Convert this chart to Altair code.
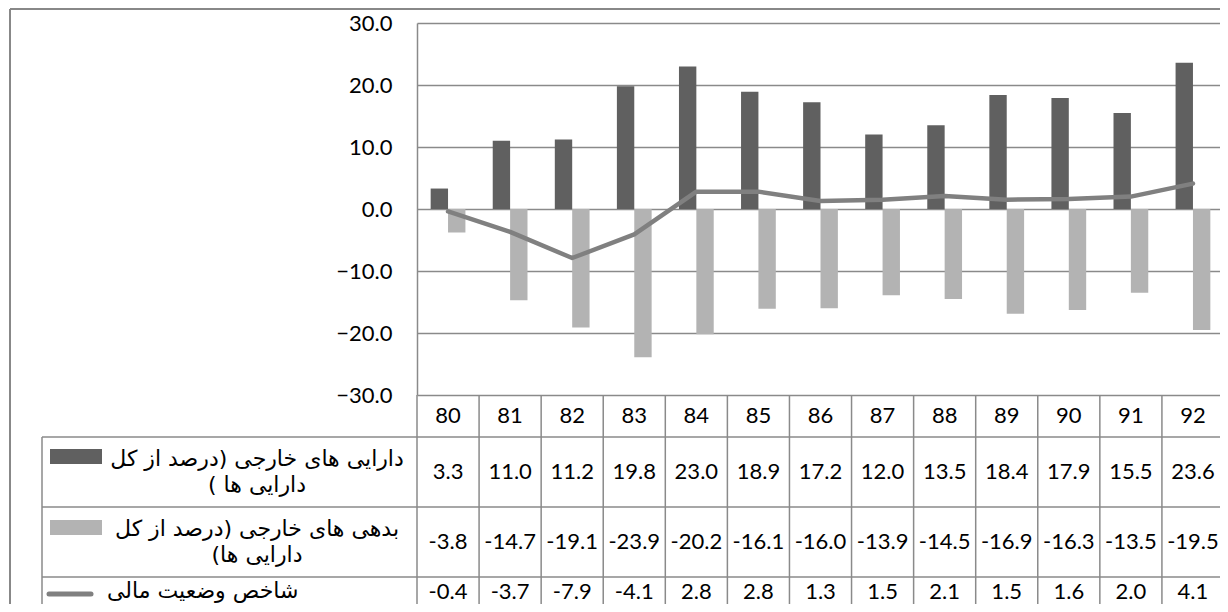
import altair as alt
import pandas as pd

# ---------------- data ----------------
years = ["80", "81", "82", "83", "84", "85", "86", "87", "88", "89", "90", "91", "92"]
assets = [3.3, 11.0, 11.2, 19.8, 23.0, 18.9, 17.2, 12.0, 13.5, 18.4, 17.9, 15.5, 23.6]
liabilities = [-3.8, -14.7, -19.1, -23.9, -20.2, -16.1, -16.0, -13.9, -14.5, -16.9, -16.3, -13.5, -19.5]
fin_index = [-0.4, -3.7, -7.9, -4.1, 2.8, 2.8, 1.3, 1.5, 2.1, 1.5, 1.6, 2.0, 4.1]

RLM = "\u200f"
series = ["assets", "liabilities", "index"]
label_lines = [
    ["دارایی های خارجی (درصد از کل" + RLM, "دارایی ها )" + RLM],
    ["بدهی های خارجی (درصد از کل" + RLM, "دارایی ها)" + RLM],
    ["شاخص وضعیت مالی" + RLM],
]
colors = ["#606060", "#b3b3b3", "#808080"]
y_ticks = [-30, -20, -10, 0, 10, 20, 30]

# ---------------- layout constants ----------------
X_RANGE = 807          # full width of the 13 columns (the last few px fall off the page)
VIEW_W = 803
H_TOP = 372
ROW_H = [42, 70, 70, 40]
VIEW_H = 581
GRID = "#8a8a8a"
NUM_FONT = "Lato"
FA_FONT = "DejaVu Sans"
FS = 22
FA_FS = 22
STEP = X_RANGE / len(years)
BAR_W = STEP * 0.28

row_top = [sum(ROW_H[:i]) for i in range(len(ROW_H))]
H_TAB = sum(ROW_H)
H = H_TOP + H_TAB
row_center = [row_top[i] + ROW_H[i] / 2 for i in range(len(ROW_H))]
row_center[3] = row_top[3] + 15

color_scale = alt.Scale(domain=series, range=colors)
xs = alt.Scale(domain=years, paddingInner=0, paddingOuter=0, range=[0, X_RANGE])

# ---------------- top plot ----------------
ys_top = alt.Scale(domain=[-30, 30], nice=False, zero=False, range=[H_TOP, 0])

assets_df = pd.DataFrame({"year": years, "value": assets, "series": series[0]})
liab_df = pd.DataFrame({"year": years, "value": liabilities, "series": series[1]})
line_df = pd.DataFrame({"year": years, "value": fin_index, "series": series[2]})

y_axis = alt.Axis(
    values=y_ticks, format=".1f", title=None, grid=True, gridColor=GRID, gridWidth=1.3,
    domainColor=GRID, domainWidth=1.5, ticks=False, labelPadding=25,
    labelFont=NUM_FONT, labelFontSize=FS, labelColor="#000000")

bars_a = alt.Chart(assets_df).mark_bar(width=BAR_W, xOffset=-BAR_W / 2).encode(
    x=alt.X("year:N", scale=xs, axis=None),
    y=alt.Y("value:Q", scale=ys_top, axis=y_axis),
    color=alt.Color("series:N", scale=color_scale, legend=None),
)
bars_l = alt.Chart(liab_df).mark_bar(width=BAR_W, xOffset=BAR_W / 2).encode(
    x=alt.X("year:N", scale=xs, axis=None),
    y=alt.Y("value:Q", scale=ys_top),
    color=alt.Color("series:N", scale=color_scale, legend=None),
)
line = alt.Chart(line_df).mark_line(strokeWidth=4.5, strokeCap="round", strokeJoin="round").encode(
    x=alt.X("year:N", scale=xs, axis=None),
    y=alt.Y("value:Q", scale=ys_top),
    color=alt.Color("series:N", scale=color_scale, legend=None),
)
top = alt.layer(bars_a, bars_l, line)

# ---------------- data table ----------------
# table y units are pixels measured from the top of the table
ys_tab = alt.Scale(domain=[0, H_TAB], range=[H_TOP, H], nice=False, zero=False)

cells = []
for y in years:
    cells.append({"year": y, "txt": y, "yc": row_center[0]})
for vals, r in ((assets, 1), (liabilities, 2), (fin_index, 3)):
    for y, v in zip(years, vals):
        cells.append({"year": y, "txt": f"{v:.1f}", "yc": row_center[r]})
cells_df = pd.DataFrame(cells)

cell_text = alt.Chart(cells_df).mark_text(font=NUM_FONT, fontSize=FS, color="#000000").encode(
    x=alt.X("year:N", scale=xs, axis=None),
    y=alt.Y("yc:Q", scale=ys_tab, axis=None),
    text="txt:N",
)

col_df = pd.DataFrame({"year": years, "y0": 0, "y1": H_TAB})
col_lines = alt.Chart(col_df).mark_rule(color=GRID, strokeWidth=1.5, xOffset=-STEP / 2).encode(
    x=alt.X("year:N", scale=xs, axis=None),
    y=alt.Y("y0:Q", scale=ys_tab, axis=None), y2="y1:Q",
)

hlines_df = pd.DataFrame({"yv": row_top[1:]})
hlines = alt.Chart(hlines_df).mark_rule(color=GRID, strokeWidth=1.5).encode(
    x=alt.value(-375), x2=alt.value(X_RANGE), y=alt.Y("yv:Q", scale=ys_tab, axis=None))

vl_df = pd.DataFrame({"y0": [ROW_H[0]], "y1": [H_TAB]})
vline_left = alt.Chart(vl_df).mark_rule(color=GRID, strokeWidth=1.5).encode(
    x=alt.value(-375), y=alt.Y("y0:Q", scale=ys_tab, axis=None), y2="y1:Q")

frame_df = pd.DataFrame({"y0": [-H_TOP - 14], "y1": [H_TAB]})
border_left = alt.Chart(frame_df).mark_rule(color="#888888", strokeWidth=2).encode(
    x=alt.value(-407), y=alt.Y("y0:Q", scale=ys_tab, axis=None), y2="y1:Q")
border_top = alt.Chart(frame_df).mark_rule(color="#888888", strokeWidth=2).encode(
    x=alt.value(-407), x2=alt.value(X_RANGE), y=alt.Y("y0:Q", scale=ys_tab, axis=None))

leg_df = pd.DataFrame({
    "series": series,
    "yc": [row_center[1], row_center[2], row_center[3] + 2],
    "sy0": [row_center[1] - 23, row_center[2] - 22, 0],
    "sy1": [row_center[1] - 8, row_center[2] - 7, 0],
})
rect_df = leg_df.iloc[:2].reset_index(drop=True)
last_df = leg_df.iloc[2:].reset_index(drop=True)

swatches = alt.Chart(rect_df).mark_rect().encode(
    x=alt.value(-367), x2=alt.value(-315),
    y=alt.Y("sy0:Q", scale=ys_tab, axis=None), y2="sy1:Q",
    color=alt.Color("series:N", scale=color_scale, legend=None),
)
line_swatch = alt.Chart(last_df).mark_rule(strokeWidth=5, strokeCap="round").encode(
    x=alt.value(-368), x2=alt.value(-326),
    y=alt.Y("yc:Q", scale=ys_tab, axis=None),
    color=alt.Color("series:N", scale=color_scale, legend=None),
)

LH = 26
txt_rows = []
for i in range(2):
    txt_rows.append({"txt": label_lines[i][0], "yc": row_center[i + 1] - LH / 2})
    txt_rows.append({"txt": label_lines[i][1], "yc": row_center[i + 1] + LH / 2})
txt_df = pd.DataFrame(txt_rows)
leg_text = alt.Chart(txt_df).mark_text(
    font=FA_FONT, fontSize=FA_FS, align="center", color="#000000"
).encode(x=alt.value(-160), y=alt.Y("yc:Q", scale=ys_tab, axis=None), text="txt:N")

txt3_df = pd.DataFrame({"txt": [label_lines[2][0]], "yc": [row_center[3] - 1]})
leg_text3 = alt.Chart(txt3_df).mark_text(
    font=FA_FONT, fontSize=FA_FS, align="left", color="#000000"
).encode(x=alt.value(-310), y=alt.Y("yc:Q", scale=ys_tab, axis=None), text="txt:N")

table = alt.layer(border_left, border_top, col_lines, hlines, vline_left, cell_text,
                  swatches, line_swatch, leg_text, leg_text3)

chart = alt.layer(top, table).resolve_scale(y="independent").properties(
    width=VIEW_W, height=VIEW_H,
    autosize=alt.AutoSizeParams(type="none"),
    padding={"left": 409, "top": 15, "right": 0, "bottom": 0},
).configure_view(stroke=None)

chart.save("out.html", embed_options={"renderer": "svg", "actions": False})
